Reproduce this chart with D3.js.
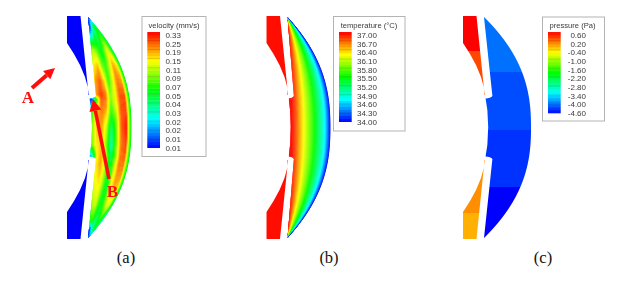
<!DOCTYPE html>
<html><head><meta charset="utf-8">
<script src="https://cdn.jsdelivr.net/npm/d3@7/dist/d3.min.js"></script>
<style>html,body{margin:0;padding:0;background:#fff}svg{display:block}</style></head>
<body><svg id="c" width="634" height="289"></svg>
<script>
// ---- legend data
const velocityLabels=["0.33","0.25","0.19","0.15","0.11","0.09","0.07","0.05","0.04","0.03","0.02","0.02","0.01","0.01"];
const velocityLevels=[0.33,0.25,0.19,0.15,0.11,0.09,0.07,0.05,0.04,0.03,0.024,0.018,0.012,0.007];
const temperatureLabels=["37.00","36.70","36.40","36.10","35.80","35.50","35.20","34.90","34.60","34.30","34.00"];
const pressureLabels=["0.60","0.20","-0.40","-1.00","-1.60","-2.20","-2.80","-3.40","-4.00","-4.60"];
const pressureLevels=[0.6,0.02,-0.56,-1.13,-1.71,-2.29,-2.87,-3.44,-4.02,-4.6];
const captions=["(a)","(b)","(c)"];
// ---- field data
const fieldAcross=[0,0.125,0.25,0.375,0.5,0.625,0.75,0.875,1];
const fieldRowsY=[17,25,35,50,65,80,95,100,112,127,145,156,165,185,205,220,230,238];
const velocityField=[
[.01,.01,.01,.01,.01,.01,.01,.01,.02],
[.01,.01,.012,.024,.03,.04,.05,.05,.03],
[.03,.024,.03,.05,.04,.05,.07,.07,.04],
[.07,.11,.09,.07,.05,.09,.13,.09,.04],
[.09,.15,.17,.09,.07,.11,.19,.15,.05],
[.11,.19,.24,.15,.07,.13,.22,.19,.05],
[.11,.19,.27,.22,.09,.13,.25,.25,.05],
[.01,.07,.25,.22,.09,.13,.25,.26,.05],
[.07,.17,.22,.17,.07,.11,.25,.27,.05],
[.09,.17,.19,.11,.04,.09,.25,.3,.05],
[.09,.15,.17,.09,.03,.09,.22,.27,.05],
[.02,.13,.19,.11,.04,.09,.22,.24,.05],
[.09,.15,.19,.11,.05,.11,.22,.22,.05],
[.09,.13,.15,.09,.05,.13,.19,.17,.05],
[.07,.11,.11,.07,.05,.09,.13,.11,.04],
[.05,.07,.07,.05,.04,.05,.07,.05,.03],
[.012,.012,.012,.024,.03,.04,.05,.05,.03],
[.01,.01,.01,.01,.01,.01,.01,.01,.02]];
const temperatureProfile=[37,36.75,36.42,36.1,35.78,35.42,35.08,34.68,34];
const pressureBandEdges=[16,72,130,187,240];
const pressureBandValues=[-4.03,-4.2,-4.35,-4.6];
const portTopEdges=[16,51,100];
const portTopValues=[0.6,0.24];
const portBottomEdges=[155,213,240];
const portBottomValues=[-0.13,-0.3];
const portValueA=0.007, portValueB=36.95;
// ---- outline of the section, relative to the tip of the body
const innerY=[17,96,97,97.8,98.3,98.6,110,127,145,156.4,156.7,157.2,158,159,238];
const innerX=[0,8,7,5.5,3.5,1.5,3.2,4,3.2,1.5,3.5,5.5,7,8,0];
const portPts=[[-21,16],[-7.5,16],[0.6,95],[0,95],[0,88],[-3,77],[-8,65],[-14,54],[-21,43]];

const svg=d3.select("#c");
const defs=svg.append("defs");
defs.append("filter").attr("id","soft").attr("x","-5%").attr("y","-5%").attr("width","110%").attr("height","110%")
  .append("feGaussianBlur").attr("stdDeviation",0.7);
defs.append("filter").attr("id","softT").append("feGaussianBlur").attr("stdDeviation",0.3);

const jet=d3.scaleLinear().domain([0,.25,.5,.75,1]).range(["#0000ff","#00ffff","#00ff00","#ffff00","#ff0000"]).interpolate(d3.interpolateRgb);
const idx=l=>d3.range(l.length).map(i=>1-i/(l.length-1));
const velT=d3.scaleLinear().domain(velocityLevels).range(idx(velocityLevels)).clamp(true);
const tempT=d3.scaleLinear().domain([34,37]).range([0,1]).clamp(true);
const presT=d3.scaleLinear().domain(pressureLevels).range(idx(pressureLevels)).clamp(true);

const inner=d3.scaleLinear().domain(innerY).range(innerX);
const yMid=127.5, yHalf=110.5, bulge=2.4, fieldInset=4;
const panels=[
 {tip:88,max:43.5,k:1,cx:126,legend:{x:142,y:16.5,w:64,h:140,sx:147.3,end:181,title:"velocity (mm/s)",labels:velocityLabels,tx:174}},
 {tip:287.5,max:43,k:0.8,cx:329,legend:{x:333.5,y:16.5,w:71.5,h:114.5,sx:339,end:377,title:"temperature (°C)",labels:temperatureLabels,tx:369}},
 {tip:484,max:47,k:1.05,cx:543,legend:{x:542.5,y:17,w:62,h:104,sx:548,end:586,title:"pressure (Pa)",labels:pressureLabels,tx:572.5}}
];
const outerX=(p,y)=>p.tip+p.max*(1-Math.abs((y-yMid)/yHalf)**bulge);
const innerAt=(p,y)=>p.tip+p.k*inner(y);
const frameInner=(p,y)=>p.tip+fieldInset*(1-((y-yMid)/yHalf)**2);
const at=(p,u,y)=>{const a=frameInner(p,y),b=outerX(p,y);return [a+(b-a)*u,y];};
const ys=[...new Set(d3.range(17,238.01,2).concat(innerY))].sort(d3.ascending);
const line=d3.line();

function bodyPath(p){
  const left=ys.map(y=>[innerAt(p,y),y]), right=ys.map(y=>[outerX(p,y),y]).reverse();
  return line(left.concat(right))+"Z";
}
const rowScale=d3.scaleLinear().domain(fieldRowsY).range(d3.range(fieldRowsY.length));
function sample(grid,u,y){
  u=Math.max(0,Math.min(1,u));
  const r=rowScale(y), r0=Math.min(Math.floor(r),grid.length-2), fr=r-r0;
  const c=u*(fieldAcross.length-1), c0=Math.min(Math.floor(c),fieldAcross.length-2), fc=c-c0;
  const lv=v=>Math.log(v);
  const v=lv(grid[r0][c0])*(1-fr)*(1-fc)+lv(grid[r0][c0+1])*(1-fr)*fc+lv(grid[r0+1][c0])*fr*(1-fc)+lv(grid[r0+1][c0+1])*fr*fc;
  return Math.exp(v);
}
panels.forEach((p,i)=>{
  defs.append("clipPath").attr("id","body"+i).append("path").attr("d",bodyPath(p));
  defs.append("clipPath").attr("id","port"+i).append("path")
    .attr("d",line(portPts.map(d=>[p.tip+d[0],d[1]]))+"Z"+line(portPts.map(d=>[p.tip+d[0],255-d[1]]))+"Z");
  const g=svg.append("g").attr("filter","url(#soft)");
  const body=g.append("g").attr("clip-path",`url(#body${i})`);
  const port=g.append("g").attr("clip-path",`url(#port${i})`);
  if(i===0){
    const cells=[];
    const us=d3.range(-2/36,1,1/36);
    ys.slice(0,-1).forEach((y,k)=>us.forEach(u=>cells.push({u,y,y2:ys[k+1]})));
    body.selectAll("path").data(cells).join("path")
      .attr("d",d=>line([at(p,d.u,d.y),at(p,d.u+1/36,d.y),at(p,d.u+1/36,d.y2),at(p,d.u,d.y2)])+"Z")
      .attr("fill",d=>jet(velT(sample(velocityField,d.u+1/72,(d.y+d.y2)/2))))
      .attr("stroke",d=>jet(velT(sample(velocityField,d.u+1/72,(d.y+d.y2)/2)))).attr("stroke-width",0.4);
    port.append("rect").attr("x",p.tip-30).attr("y",10).attr("width",40).attr("height",240).attr("fill",jet(velT(portValueA)));
  } else if(i===1){
    const prof=d3.scaleLinear().domain(fieldAcross).range(temperatureProfile).clamp(true);
    const strips=d3.range(-4/60,1,1/60);
    body.selectAll("path").data(strips).join("path")
      .attr("d",u=>line(ys.map(y=>at(p,u,y)).concat(ys.map(y=>at(p,u+1/60,y)).reverse()))+"Z")
      .attr("fill",u=>jet(tempT(prof(u+1/120)))).attr("stroke",u=>jet(tempT(prof(u+1/120)))).attr("stroke-width",0.4);
    port.append("rect").attr("x",p.tip-30).attr("y",10).attr("width",40).attr("height",240).attr("fill",jet(tempT(portValueB)));
  } else {
    const bands=(sel,edges,vals)=>sel.selectAll(null).data(vals).join("rect")
      .attr("x",p.tip-30).attr("width",100)
      .attr("y",(d,k)=>edges[k]).attr("height",(d,k)=>edges[k+1]-edges[k])
      .attr("fill",d=>jet(presT(d)));
    bands(body,pressureBandEdges,pressureBandValues);
    bands(port,portTopEdges,portTopValues);
    bands(port,portBottomEdges,portBottomValues);
  }
  // legend
  const L=p.legend, top=32, step=8.67, n=L.labels.length, lg=svg.append("g");
  lg.append("rect").attr("x",L.x).attr("y",L.y).attr("width",L.w).attr("height",L.h)
    .attr("fill","#fff").attr("stroke","#b4b4b4").attr("stroke-width",1);
  const sw=lg.append("g").attr("filter","url(#softT)");
  const yS=d3.scaleLinear().domain([1,0]).range([top,top+step*(n-1)+3]);
  const sub=d3.range(0,1,1/((n-1)*3));
  sw.selectAll("rect").data(sub).join("rect")
    .attr("x",L.sx).attr("width",12.7)
    .attr("y",d=>yS(d+1/((n-1)*3))).attr("height",d=>yS(d)-yS(d+1/((n-1)*3))+0.3)
    .attr("fill",d=>jet(d+1/((n-1)*6)));
  sw.selectAll("line").data(d3.range(1,n-1)).join("line")
    .attr("x1",L.sx).attr("x2",L.sx+12.7)
    .attr("y1",k=>yS(1-k/(n-1))).attr("y2",k=>yS(1-k/(n-1)))
    .attr("stroke","#000").attr("stroke-opacity",0.22).attr("stroke-width",0.6);
  const tg=lg.append("g").attr("filter","url(#softT)").attr("font-family","Liberation Sans").attr("fill","#3a3a3a");
  tg.append("text").attr("x",L.tx).attr("y",28).attr("text-anchor","middle").attr("font-size",7.6).text(L.title);
  tg.selectAll("text.l").data(L.labels).join("text").attr("class","l")
    .attr("x",L.end).attr("y",(d,k)=>35+step*k+2.9).attr("text-anchor","end").attr("font-size",8).text(d=>d);
  svg.append("text").attr("x",p.cx).attr("y",263).attr("text-anchor","middle")
    .attr("font-family","Liberation Serif").attr("font-size",16.5).attr("fill","#111").text(captions[i]);
});
// annotations
const arrows=[{from:[32,88],to:[55,68],w:4,hl:11,hw:11},{from:[109,179],to:[93,99],w:3.6,hl:12,hw:12}];
const red="#ff0f0f";
const ag=svg.append("g").attr("filter","url(#softT)");
arrows.forEach(a=>{
  const dx=a.to[0]-a.from[0],dy=a.to[1]-a.from[1],l=Math.hypot(dx,dy),ux=dx/l,uy=dy/l;
  const bx=a.to[0]-ux*a.hl,by=a.to[1]-uy*a.hl;
  ag.append("line").attr("x1",a.from[0]).attr("y1",a.from[1]).attr("x2",bx).attr("y2",by).attr("stroke",red).attr("stroke-width",a.w);
  ag.append("path").attr("fill",red).attr("d",line([a.to,[bx-uy*a.hw/2,by+ux*a.hw/2],[bx+uy*a.hw/2,by-ux*a.hw/2]])+"Z");
});
ag.selectAll("text").data([{t:"A",x:28,y:103},{t:"B",x:112.5,y:197}]).join("text")
  .attr("x",d=>d.x).attr("y",d=>d.y).attr("text-anchor","middle").attr("font-family","Liberation Serif")
  .attr("font-weight","bold").attr("font-size",17).attr("fill",red).text(d=>d.t);
</script></body></html>
